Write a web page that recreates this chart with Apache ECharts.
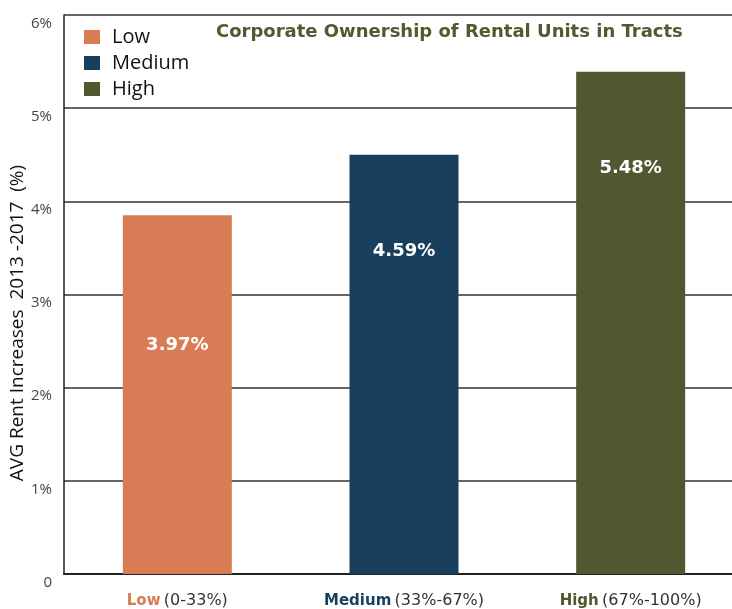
<!DOCTYPE html>
<html>
<head>
<meta charset="utf-8">
<script src="https://cdn.jsdelivr.net/npm/echarts@6/dist/echarts.min.js"></script>
<style>
  html, body { margin: 0; padding: 0; background: #fff; }
  #chart { width: 732px; height: 609px; }
</style>
</head>
<body>
<div id="chart"></div>
<script>
var categories = ['Low', 'Medium', 'High'];
var ranges = ['(0-33%)', '(33%-67%)', '(67%-100%)'];
// bar heights as drawn in the picture (%)
var barValues = [3.85, 4.50, 5.39];
// printed labels
var barLabels = ['3.97%', '4.59%', '5.48%'];
var colors = ['#d97b55', '#183f5b', '#505831'];
var labelDistance = [121, 88, 87];

var myChart = echarts.init(document.getElementById('chart'));

function buildSeries() {
    var list = [];
    categories.forEach(function(name, i) {
        var data = categories.map(function(c, j) { return j === i ? barValues[i] : '-'; });
        list.push({
            name: name,
            type: 'bar',
            data: data,
            barWidth: 109,
            barGap: '-100%',
            itemStyle: { color: colors[i] },
            label: {
                show: true,
                position: 'insideTop',
                distance: labelDistance[i],
                formatter: function() { return barLabels[i]; },
                color: '#fff',
                fontFamily: 'DejaVu Sans',
                fontWeight: 'bold',
                fontSize: 18
            }
        });
    });
    return list;
}

var rich = {};
categories.forEach(function(c, i) {
    rich['c' + i] = { color: colors[i], fontWeight: 'bold', fontSize: 15, fontFamily: 'DejaVu Sans' };
});
rich.r = { color: '#333', fontSize: 16, fontFamily: 'DejaVu Sans' };

var option = {
    animation: false,
    title: {
        text: 'Corporate Ownership of Rental Units in Tracts',
        left: 216,
        top: 23,
        padding: 0,
        textStyle: { color: '#4f5a2f', fontSize: 18, fontWeight: 'bold', fontFamily: 'DejaVu Sans' }
    },
    legend: {
        orient: 'vertical',
        left: 84,
        top: 27,
        padding: 0,
        itemWidth: 16,
        itemHeight: 14,
        itemGap: 6,
        icon: 'rect',
        data: categories,
        textStyle: { fontSize: 20, lineHeight: 20, color: '#111', fontFamily: 'Open Sans', padding: [0, 0, 0, 7] }
    },
    graphic: [{
        type: 'text',
        x: 18,
        y: 323,
        rotation: Math.PI / 2,
        style: {
            text: 'AVG Rent Increases  2013 -2017  (%)',
            textAlign: 'center',
            textVerticalAlign: 'middle',
            fill: '#111',
            font: '19px "Open Sans"'
        }
    }],
    grid: { left: 64, width: 680, top: 15, bottom: 35, outerBoundsMode: 'none' },
    xAxis: {
        type: 'category',
        data: categories,
        axisTick: { show: false },
        axisLine: { lineStyle: { color: '#222', width: 2 } },
        axisLabel: {
            margin: 19,
            formatter: function(v, i) {
                return '{c' + i + '|' + v + '} {r|' + ranges[i] + '}';
            },
            rich: rich
        }
    },
    yAxis: {
        type: 'value',
        min: 0,
        max: 6,
        interval: 1,
        axisLine: { show: true, lineStyle: { color: '#222', width: 1.5 } },
        axisTick: { show: false },
        splitLine: { lineStyle: { color: '#333', width: 1.5 } },
        axisLabel: {
            margin: 12,
            verticalAlign: 'top',
            padding: [1, 0, 0, 0],
            color: '#444',
            fontSize: 15,
            fontFamily: 'Open Sans',
            formatter: function(v) { return v === 0 ? '0' : v + '%'; }
        }
    },
    series: buildSeries()
};

myChart.setOption(option);
</script>
</body>
</html>
